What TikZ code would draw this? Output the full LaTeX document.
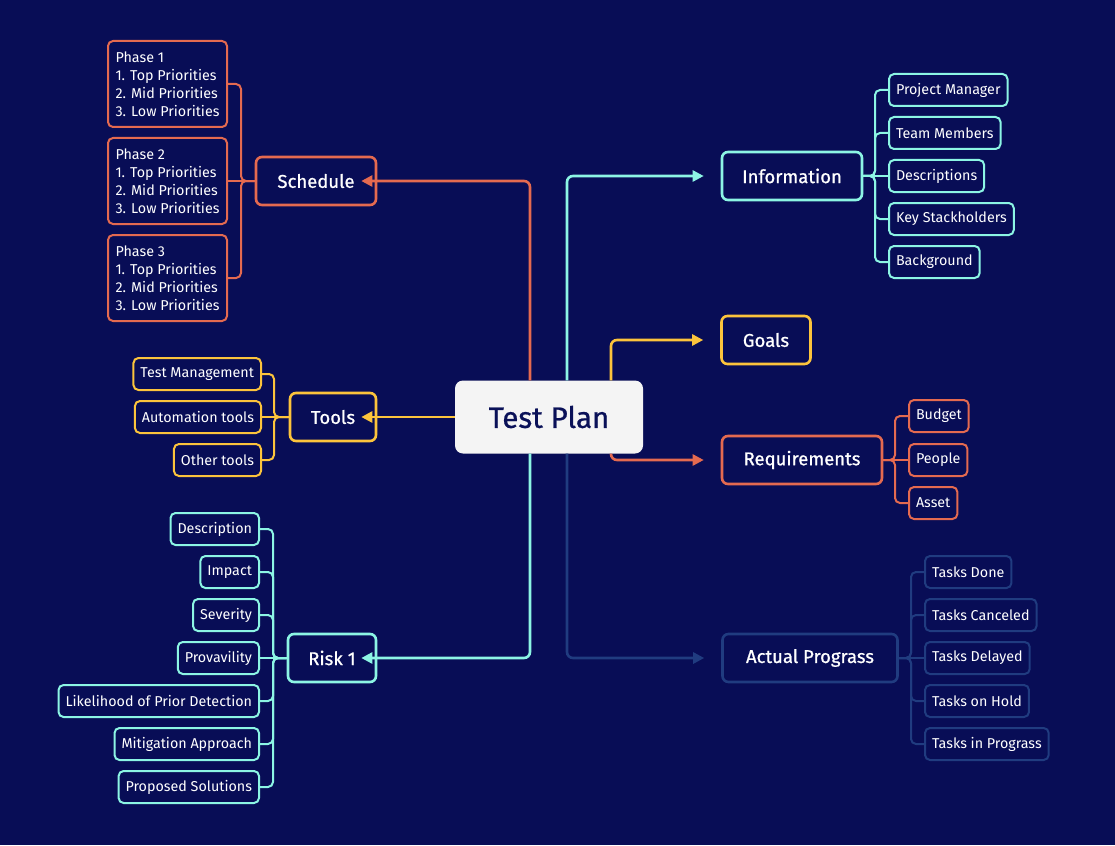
\documentclass[tikz,border=0pt]{standalone}
\usepackage{fontspec}
\setmainfont{Fira Sans}
\newfontfamily\medfont{Fira Sans}[FakeBold=0.8]
\usetikzlibrary{arrows.meta}
\definecolor{bg}{RGB}{8,13,86}
\definecolor{cor}{RGB}{228,106,80}
\definecolor{ccy}{RGB}{140,245,228}
\definecolor{cye}{RGB}{252,196,60}
\definecolor{cdb}{RGB}{32,60,128}
\definecolor{cbox}{RGB}{244,244,244}
\definecolor{ctxt}{RGB}{10,17,88}
\begin{document}
\begin{tikzpicture}[x=1pt,y=-1pt,
 main/.style={draw=#1, line width=2.6pt, rounded corners=6pt, fill=bg, text=white, font=\medfont\fontsize{18.5}{21}\selectfont, minimum height=48pt, inner sep=0pt},
 leaf/.style={draw=#1, line width=2pt, rounded corners=5pt, fill=bg, text=white, font=\fontsize{14.3}{18}\selectfont, minimum height=32pt, inner xsep=7pt, inner ysep=0pt},
 link/.style={draw=#1, line width=2.6pt, rounded corners=6pt, -{Triangle[length=11pt,width=11pt]}},
 bus/.style={draw=#1, line width=2pt, rounded corners=5pt},
]
\fill[bg] (0,0) rectangle (1115,845);
\useasboundingbox (0,0) rectangle (1115,845);

% center
\node[fill=cbox, rounded corners=8pt, minimum width=188pt, minimum height=73pt, text=ctxt, font=\medfont\fontsize{29.5}{33}\selectfont] (tp) at (549,417) {Test Plan};

% main nodes
\node[main=cor, minimum width=120pt] (sch) at (316,181) {Schedule};
\node[main=ccy, minimum width=140pt] (info) at (792,176) {Information};
\node[main=cye, minimum width=89pt] (goals) at (766,340) {Goals};
\node[main=cye, minimum width=86pt] (tools) at (333,417) {Tools};
\node[main=cor, minimum width=160pt] (req) at (802,460) {Requirements};
\node[main=ccy, minimum width=88pt] (risk) at (332,658) {Risk 1};
\node[main=cdb, minimum width=175pt] (prog) at (810,658) {Actual Prograss};

% links from center
\draw[link=cor] ([xshift=-19pt]tp.north) |- ([xshift=-16pt]sch.east);
\draw[link=ccy] ([xshift=18pt]tp.north) |- ([xshift=-17pt]info.west);
\draw[link=cye] ([xshift=62pt]tp.north) |- ([xshift=-17pt]goals.west);
\draw[link=cye] (tp.west) -- ([xshift=-16pt]tools.east);
\draw[link=cor] ([xshift=62pt]tp.south) |- ([xshift=-17pt]req.west);
\draw[link=ccy] ([xshift=-19pt]tp.south) |- ([xshift=-16pt]risk.east);
\draw[link=cdb] ([xshift=18pt]tp.south) |- ([xshift=-17pt]prog.west);

% schedule children
\node[leaf=cor, anchor=east, align=left, minimum width=119pt, minimum height=86pt] (p1) at (228,84) {Phase 1\\1. Top Priorities\\2. Mid Priorities\\3. Low Priorities};
\node[leaf=cor, anchor=east, align=left, minimum width=119pt, minimum height=86pt] (p2) at (228,181) {Phase 2\\1. Top Priorities\\2. Mid Priorities\\3. Low Priorities};
\node[leaf=cor, anchor=east, align=left, minimum width=119pt, minimum height=86pt] (p3) at (228,278) {Phase 3\\1. Top Priorities\\2. Mid Priorities\\3. Low Priorities};
\draw[bus=cor] (sch.west) -| ([xshift=13pt]p1.east) -- (p1.east);
\draw[bus=cor] (sch.west) -- (p2.east);
\draw[bus=cor] (sch.west) -| ([xshift=13pt]p3.east) -- (p3.east);

% information children
\node[leaf=ccy, anchor=west] (i1) at (888,90) {Project Manager};
\node[leaf=ccy, anchor=west] (i2) at (888,133) {Team Members};
\node[leaf=ccy, anchor=west] (i3) at (888,176) {Descriptions};
\node[leaf=ccy, anchor=west] (i4) at (888,219) {Key Stackholders};
\node[leaf=ccy, anchor=west] (i5) at (888,262) {Background};
\foreach \c in {i1,i2,i4,i5} \draw[bus=ccy] (info.east) -| ([xshift=-13pt]\c.west) -- (\c.west);
\draw[bus=ccy] (info.east) -- (i3.west);

% requirements children
\node[leaf=cor, anchor=west] (r1) at (908,416) {Budget};
\node[leaf=cor, anchor=west] (r2) at (908,460) {People};
\node[leaf=cor, anchor=west] (r3) at (908,503) {Asset};
\foreach \c in {r1,r3} \draw[bus=cor] (req.east) -| ([xshift=-13pt]\c.west) -- (\c.west);
\draw[bus=cor] (req.east) -- (r2.west);

% progress children
\node[leaf=cdb, anchor=west] (g1) at (924,572) {Tasks Done};
\node[leaf=cdb, anchor=west] (g2) at (924,615) {Tasks Canceled};
\node[leaf=cdb, anchor=west] (g3) at (924,658) {Tasks Delayed};
\node[leaf=cdb, anchor=west] (g4) at (924,701) {Tasks on Hold};
\node[leaf=cdb, anchor=west] (g5) at (924,744) {Tasks in Prograss};
\foreach \c in {g1,g2,g4,g5} \draw[bus=cdb] (prog.east) -| ([xshift=-13pt]\c.west) -- (\c.west);
\draw[bus=cdb] (prog.east) -- (g3.west);

% tools children
\node[leaf=cye, anchor=east] (t1) at (262,374) {Test Management};
\node[leaf=cye, anchor=east] (t2) at (262,417) {Automation tools};
\node[leaf=cye, anchor=east] (t3) at (262,460) {Other tools};
\foreach \c in {t1,t3} \draw[bus=cye] (tools.west) -| ([xshift=12pt]\c.east) -- (\c.east);
\draw[bus=cye] (tools.west) -- (t2.east);

% risk children
\node[leaf=ccy, anchor=east] (k1) at (260,529) {Description};
\node[leaf=ccy, anchor=east] (k2) at (260,572) {Impact};
\node[leaf=ccy, anchor=east] (k3) at (260,615) {Severity};
\node[leaf=ccy, anchor=east] (k4) at (260,658) {Provavility};
\node[leaf=ccy, anchor=east] (k5) at (260,701) {Likelihood of Prior Detection};
\node[leaf=ccy, anchor=east] (k6) at (260,744) {Mitigation Approach};
\node[leaf=ccy, anchor=east] (k7) at (260,787) {Proposed Solutions};
\foreach \c in {k1,k2,k3,k5,k6,k7} \draw[bus=ccy] (risk.west) -| ([xshift=13pt]\c.east) -- (\c.east);
\draw[bus=ccy] (risk.west) -- (k4.east);
\end{tikzpicture}
\end{document}
